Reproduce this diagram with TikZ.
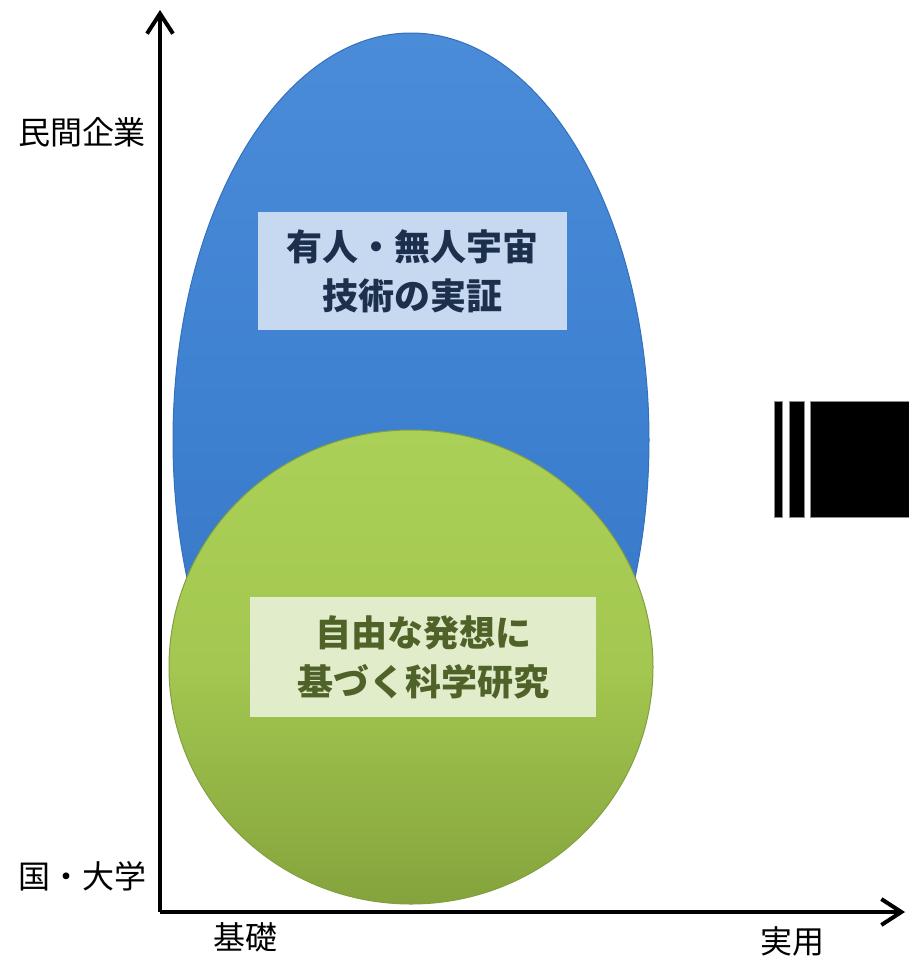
\documentclass[tikz,border=0pt]{standalone}
\usepackage{fontspec}
\setmainfont{Noto Sans CJK JP}
\usetikzlibrary{arrows.meta,shapes.geometric}
\definecolor{skyblue}{HTML}{3D80D0}
\definecolor{skybluetop}{HTML}{4A8CD8}
\definecolor{skybluedark}{HTML}{3570BC}
\definecolor{leafgreen}{HTML}{A3C750}
\definecolor{leafgreentop}{HTML}{ABD057}
\definecolor{leafgreendark}{HTML}{85A33C}
\definecolor{bluebox}{HTML}{C6D9F1}
\definecolor{greenbox}{HTML}{E1ECCA}
\definecolor{bluetext}{HTML}{1C2F4D}
\definecolor{greentext}{HTML}{4F6228}
\tikzset{
  axislabel/.style={font=\fontsize{32}{36}\selectfont, text=black, inner sep=0pt},
  boxtext/.style={font=\bfseries\fontsize{36}{49}\selectfont, align=center, inner sep=0pt},
  bar/.style={fill=black, draw=black!45, line width=1pt}
}
\begin{document}
\begin{tikzpicture}[x=1pt, y=-1pt]
    \useasboundingbox (0,0) rectangle (908,956);

    % Fields
    \node[ellipse, minimum width=476pt, minimum height=814pt, draw=skybluedark, line width=1pt,
          top color=skybluetop, bottom color=skybluedark, middle color=skyblue] (space) at (411,440) {};
    \node[ellipse, minimum width=484pt, minimum height=474pt, draw=leafgreen!80!black, line width=1pt,
          top color=leafgreentop, bottom color=leafgreendark, middle color=leafgreen] (science) at (411,667) {};

    % Labels in the fields
    \node[boxtext, fill=bluebox, text=bluetext, minimum width=309pt, minimum height=118pt] (spacebox) at (412,271)
        {有人・無人宇宙\\技術の実証};
    \node[boxtext, fill=greenbox, text=greentext, minimum width=346pt, minimum height=120pt] (sciencebox) at (423,657)
        {自由な発想に\\基づく科学研究};

    % Axes
    \coordinate (origin) at (160,912);
    \coordinate (ytop) at (160,10);
    \coordinate (xend) at (905,912);
    \draw[line width=4pt, -{Straight Barb[length=20pt, width=26pt, line width=4pt]}] (origin) -- (ytop);
    \draw[line width=4pt, -{Straight Barb[length=20pt, width=26pt, line width=4pt]}] (origin) -- (xend);

    \node[axislabel] (private) at (82,132) {民間企業};
    \node[axislabel] (public) at (83,876) {国・大学};
    \node[axislabel] (basic) at (245,937) {基礎};
    \node[axislabel] (applied) at (792,941) {実用};

    % Bars on the right
    \draw[bar] (774,401) rectangle (782,517);
    \draw[bar] (789,401) rectangle (804,517);
    \draw[bar] (810,401) rectangle (912,517);
\end{tikzpicture}
\end{document}
